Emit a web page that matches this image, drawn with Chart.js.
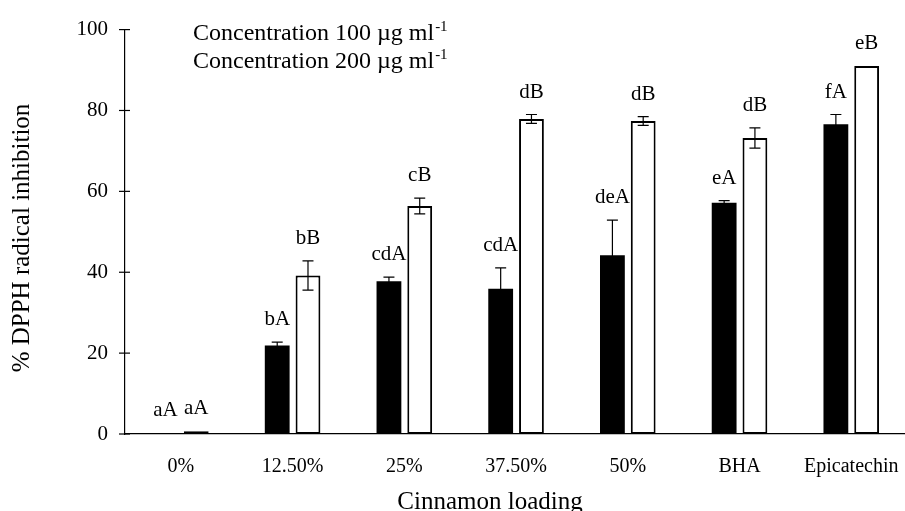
<!DOCTYPE html>
<html>
<head>
<meta charset="utf-8">
<script src="https://cdn.jsdelivr.net/npm/chart.js@4/dist/chart.umd.min.js"></script>
<style>
  html, body { margin: 0; padding: 0; background: #fff; overflow: hidden; }
  #wrap { width: 920px; height: 515px; }
</style>
</head>
<body>
<div id="wrap"><canvas id="myChart"></canvas></div>
<script>
// data
var categories = ['0%', '12.50%', '25%', '37.50%', '50%', 'BHA', 'Epicatechin']
var conc100 = [0.2, 21.9, 37.8, 35.9, 44.2, 57.2, 76.6]
var conc200 = [0.7, 39.2, 56.4, 77.9, 77.4, 73.2, 91.0]
var err100 = [0, 0.8, 1.0, 5.2, 8.7, 0.5, 2.4]
var err200 = [0, 3.6, 1.95, 1.1, 1.1, 2.5, 0]
var letters100 = ['aA', 'bA', 'cdA', 'cdA', 'deA', 'eA', 'fA']
var letters200 = ['aA', 'bB', 'cB', 'dB', 'dB', 'dB', 'eB']
var yTicks = [0, 20, 40, 60, 80, 100]
var legendNames = ['Concentration 100 \u00b5g ml', 'Concentration 200 \u00b5g ml']
var xTitle = 'Cinnamon loading'
var yTitle = '% DPPH radical inhibition'

var serif = "'Liberation Serif', 'Times New Roman', serif"

// error bars, letters, crossing tick marks, titles and the text legend
var extras = {
    id: 'extras',
    afterDatasetsDraw(chart) {
        var ctx = chart.ctx
        var y = chart.scales.y
        var errs = [err100, err200]
        var lets = [letters100, letters200]
        ctx.save()
        ctx.strokeStyle = '#000'
        ctx.fillStyle = '#000'
        ctx.lineWidth = 1.2
        chart.data.datasets.forEach(function (ds, d) {
            var meta = chart.getDatasetMeta(d)
            meta.data.forEach(function (bar, i) {
                var v = ds.data[i]
                var e = errs[d][i]
                var x = bar.x
                if (e > 0) {
                    var yt = y.getPixelForValue(v + e)
                    var yb = y.getPixelForValue(v - e)
                    ctx.beginPath()
                    ctx.moveTo(x, yt); ctx.lineTo(x, yb)
                    ctx.moveTo(x - 5.5, yt); ctx.lineTo(x + 5.5, yt)
                    ctx.moveTo(x - 5.5, yb); ctx.lineTo(x + 5.5, yb)
                    ctx.stroke()
                }
                var top = Math.min(y.getPixelForValue(v + e), y.getPixelForValue(v))
                ctx.font = '21px ' + serif
                ctx.textAlign = 'center'
                ctx.textBaseline = 'alphabetic'
                ctx.fillText(lets[d][i], x, top - 17)
            })
        })
        // y ticks crossing the axis
        var ax = chart.scales.x.left
        ctx.lineWidth = 1.2
        yTicks.forEach(function (t) {
            var py = y.getPixelForValue(t)
            ctx.beginPath()
            ctx.moveTo(ax - 6, py); ctx.lineTo(ax + 5, py)
            ctx.stroke()
        })
        // axis titles
        ctx.font = '25px ' + serif
        ctx.textAlign = 'center'
        ctx.textBaseline = 'middle'
        ctx.fillText(xTitle, 490, 502)
        ctx.save()
        ctx.translate(22, 238)
        ctx.rotate(-Math.PI / 2)
        ctx.fillText(yTitle, 0, 0)
        ctx.restore()
        // legend (text only)
        ctx.textAlign = 'left'
        ctx.textBaseline = 'alphabetic'
        legendNames.forEach(function (name, k) {
            var by = 40 + k * 28
            ctx.font = '24px ' + serif
            ctx.fillText(name, 193, by)
            var w = ctx.measureText(name).width
            ctx.font = '15px ' + serif
            ctx.fillText('-1', 193 + w + 1, by - 9)
        })
        ctx.restore()
    }
}

var myChart = document.getElementById('myChart').getContext('2d')
var chart = new Chart(myChart, {
    type: 'bar',
    data: {
        labels: categories,
        datasets: [{
            label: legendNames[0],
            data: conc100,
            backgroundColor: '#000',
            borderColor: '#000',
            borderWidth: 0
        }, {
            label: legendNames[1],
            data: conc200,
            backgroundColor: '#fff',
            borderColor: '#000',
            borderWidth: 2,
            borderSkipped: false
        }]
    },
    options: {
        animation: false,
        responsive: true,
        maintainAspectRatio: false,
        layout: { padding: { top: 23, right: 7.5, left: 0, bottom: 0 } },
        datasets: { bar: { categoryPercentage: 0.551, barPercentage: 0.806 } },
        plugins: { legend: { display: false }, tooltip: { enabled: false } },
        scales: {
            x: {
                grid: { display: false, drawTicks: false },
                border: { color: '#000', width: 1.2 },
                ticks: { color: '#000', padding: 21, font: { family: serif, size: 20 }, maxRotation: 0, autoSkip: false },
                afterFit(scale) { scale.height = 81 }
            },
            y: {
                min: 0,
                max: 100,
                afterBuildTicks(scale) { scale.ticks = yTicks.map(function (v) { return { value: v } }) },
                grid: { display: false, drawTicks: false },
                border: { color: '#000', width: 1.2 },
                ticks: { color: '#000', padding: 17, font: { family: serif, size: 21 } },
                afterFit(scale) { scale.width = 125 }
            }
        }
    },
    plugins: [extras]
})
</script>
</body>
</html>
